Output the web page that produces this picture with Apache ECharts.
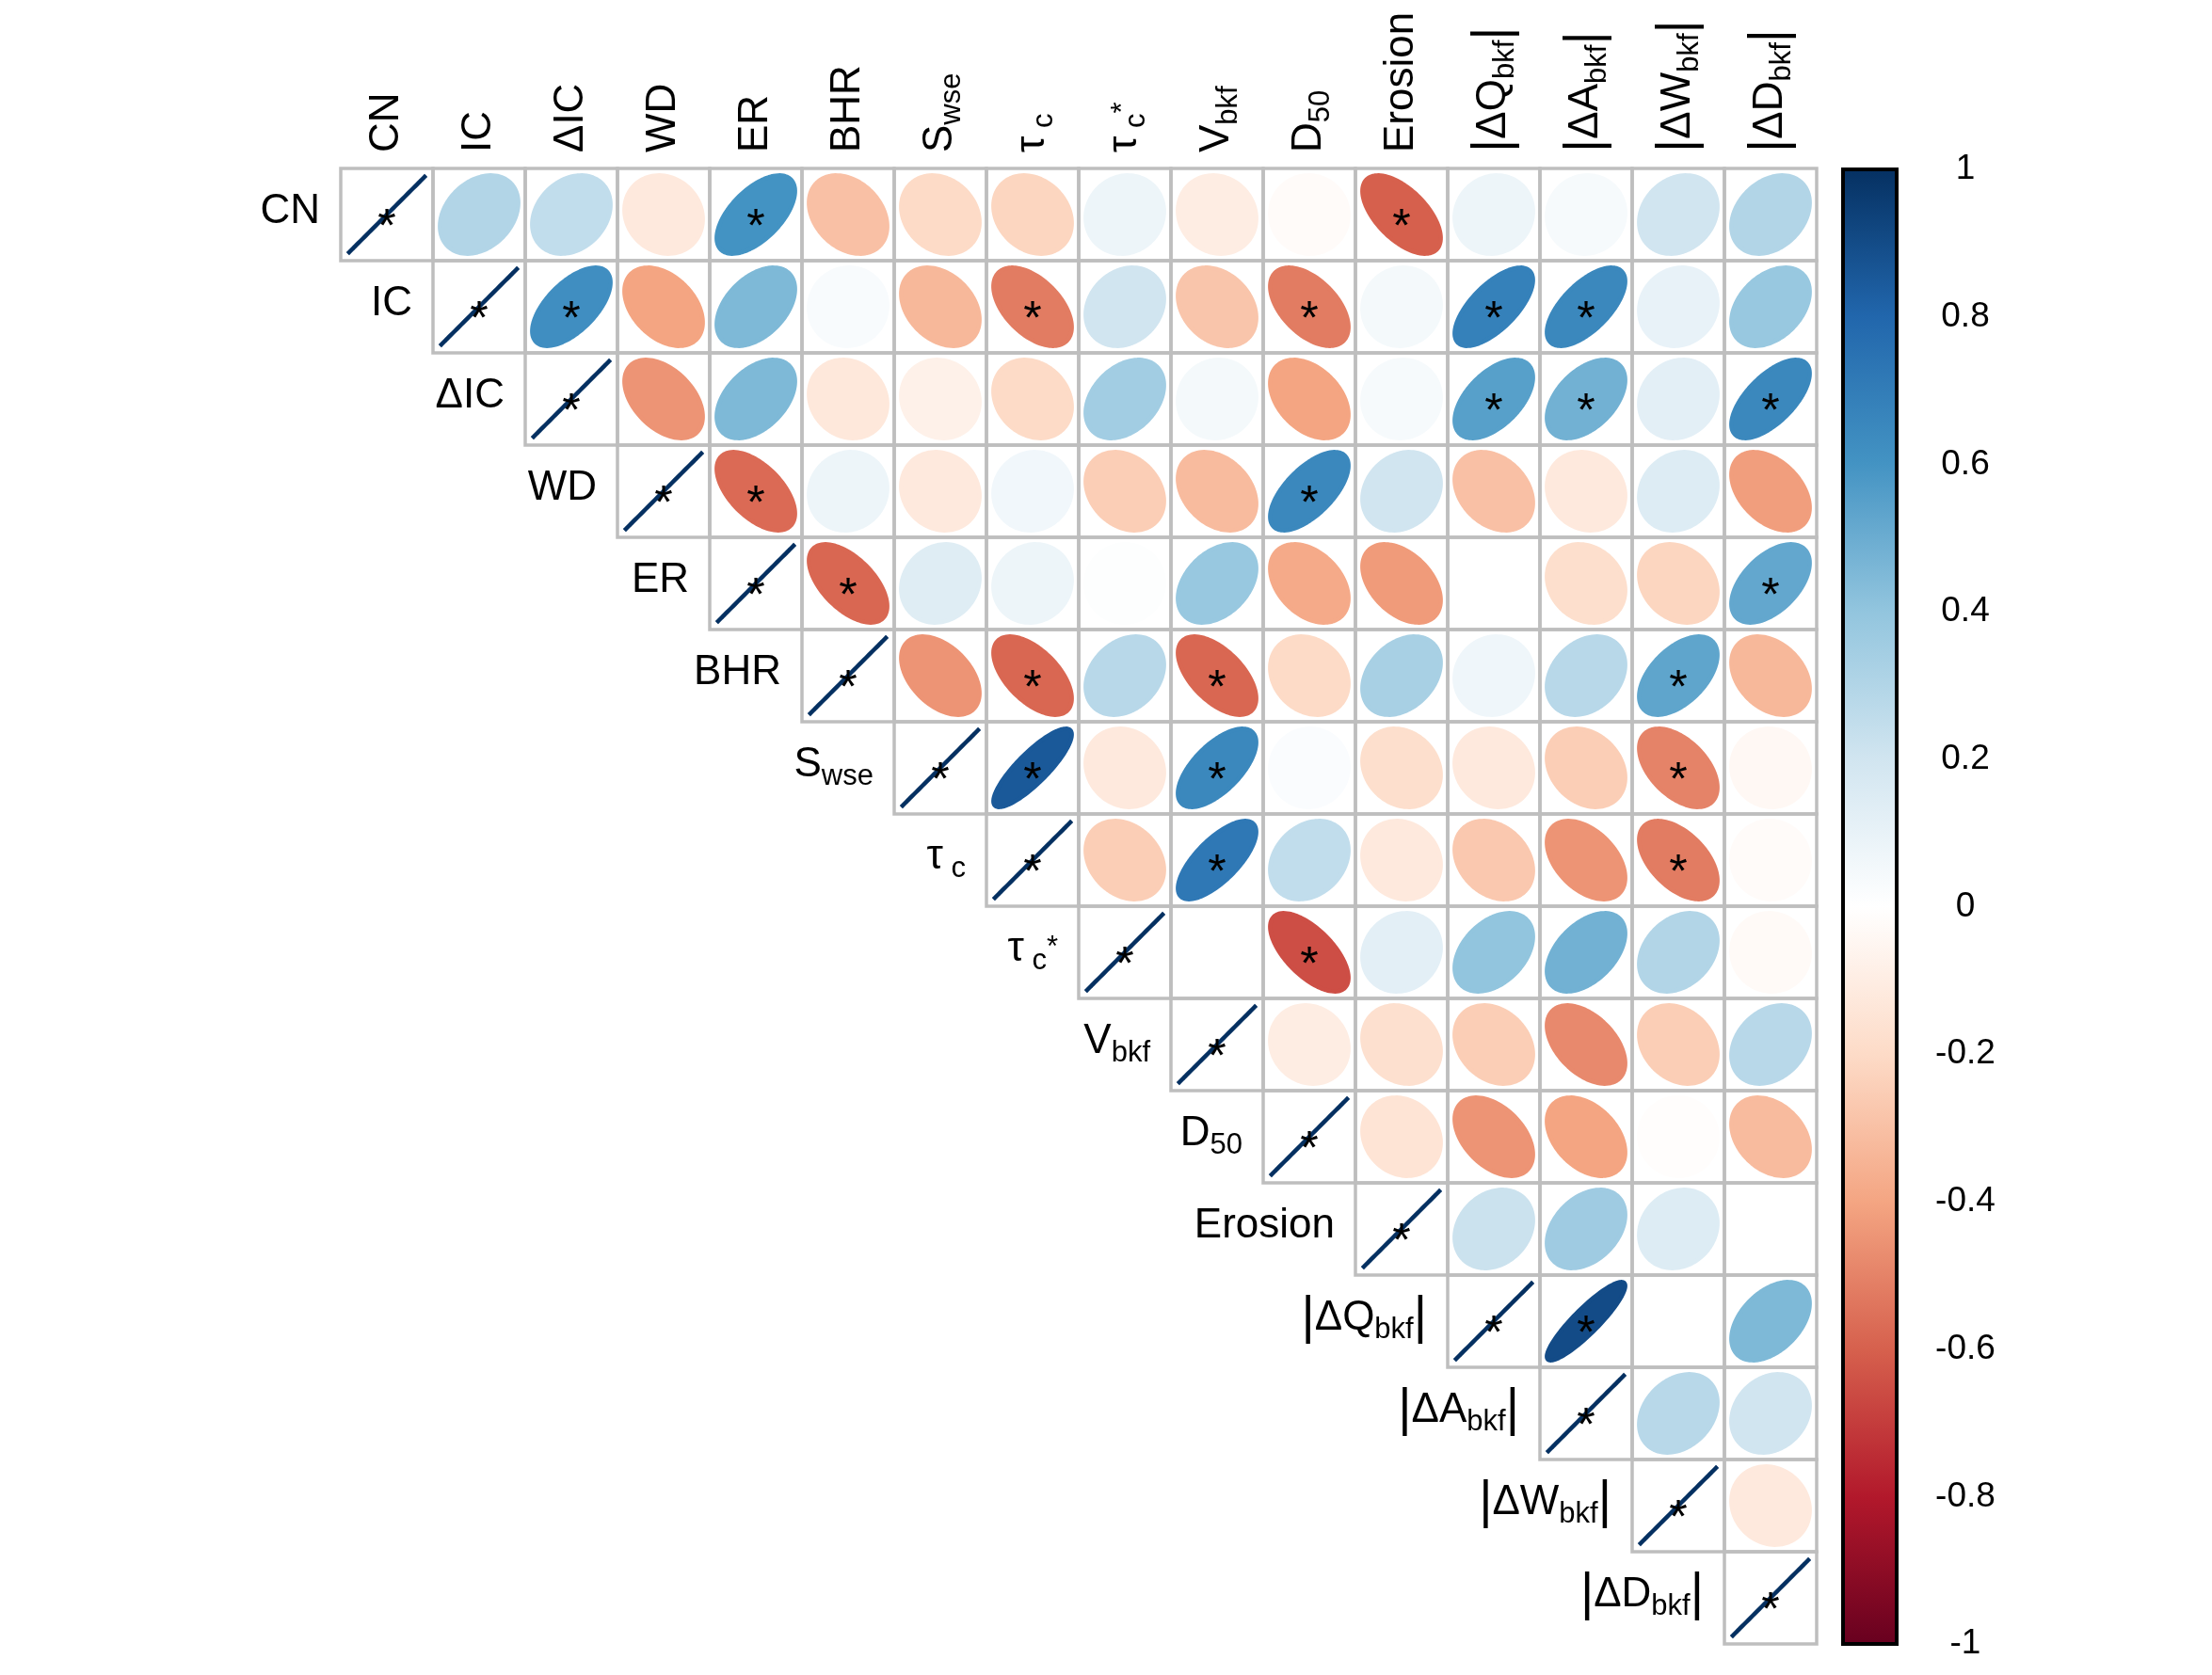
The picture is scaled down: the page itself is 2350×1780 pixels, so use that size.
<!DOCTYPE html>
<html><head><meta charset="utf-8">
<script src="https://cdn.jsdelivr.net/npm/echarts@6/dist/echarts.min.js"></script>
<style>html,body{margin:0;padding:0;background:#fff}#c{width:2350px;height:1780px}</style>
</head><body><div id="c"></div>
<script>
// Variable labels (rich-text markup: s = subscript, p = superscript, b = bar)
const varLabels = ['CN', 'IC', 'ΔIC', 'WD', 'ER', 'BHR', 'S{s|wse}', 'τ{s| c}', 'τ{s| c}{p|*}',
  'V{s|bkf}', 'D{s|50}', 'Erosion', '{b||}ΔQ{s|bkf}{b||}', '{b||}ΔA{s|bkf}{b||}',
  '{b||}ΔW{s|bkf}{b||}', '{b||}ΔD{s|bkf}{b||}'];

// Upper-triangle correlation rows (each row starts at its diagonal cell)
const rowCN   = [1, 0.30, 0.25, -0.12, 0.60, -0.30, -0.20, -0.22, 0.08, -0.10, -0.02, -0.60, 0.08, 0.04, 0.20, 0.30];
const rowIC   = [1, 0.62, -0.40, 0.45, 0.03, -0.33, -0.52, 0.20, -0.28, -0.52, 0.05, 0.68, 0.65, 0.10, 0.38];
const rowDIC  = [1, -0.45, 0.45, -0.13, -0.08, -0.20, 0.35, 0.05, -0.40, 0.04, 0.55, 0.48, 0.12, 0.65];
const rowWD   = [1, -0.57, 0.08, -0.12, 0.06, -0.25, -0.32, 0.65, 0.20, -0.30, -0.12, 0.15, -0.42];
const rowER   = [1, -0.58, 0.14, 0.08, 0.01, 0.38, -0.38, -0.43, 0.00, -0.18, -0.22, 0.52];
const rowBHR  = [1, -0.45, -0.58, 0.28, -0.58, -0.20, 0.33, 0.07, 0.28, 0.53, -0.33];
const rowSwse = [1, 0.85, -0.12, 0.65, 0.02, -0.18, -0.12, -0.25, -0.50, -0.04];
const rowTc   = [1, -0.25, 0.72, 0.25, -0.12, -0.27, -0.45, -0.52, -0.02];
const rowTcs  = [1, 0.00, -0.65, 0.12, 0.40, 0.48, 0.30, -0.03];
const rowV    = [1, -0.10, -0.17, -0.25, -0.48, -0.25, 0.28];
const rowD50  = [1, -0.15, -0.45, -0.40, -0.01, -0.32];
const rowEro  = [1, 0.22, 0.36, 0.15, 0.00];
const rowQ    = [1, 0.90, 0.00, 0.45];
const rowA    = [1, 0.28, 0.20];
const rowW    = [1, -0.12];
const rowD    = [1];

// Significant pairs [row, col] (off-diagonal)
const sigPairs = [[0,4],[0,11],[1,2],[1,7],[1,10],[1,12],[1,13],[2,12],[2,13],[2,15],[3,4],[3,10],
  [4,5],[4,15],[5,7],[5,9],[5,14],[6,7],[6,9],[6,14],[7,9],[7,14],[8,10],[12,13]];

// Colour-bar ticks
const cbMin = -1, cbMax = 1, cbStep = 0.2;
const rdbu = ['#67001F', '#B2182B', '#D6604D', '#F4A582', '#FDDBC7', '#FFFFFF',
  '#D1E5F0', '#92C5DE', '#4393C3', '#2166AC', '#053061'];

const FONT = '"Liberation Sans", Arial, Helvetica, sans-serif';
const rich = {
  s: {fontSize: 31, fontFamily: FONT, color: '#000', padding: [24, 0, 0, 0]},
  p: {fontSize: 31, fontFamily: FONT, color: '#000', padding: [0, 0, 4, 0]},
  b: {fontSize: 55, fontFamily: FONT, color: '#000'}
};

const rows = [rowCN, rowIC, rowDIC, rowWD, rowER, rowBHR, rowSwse, rowTc, rowTcs, rowV, rowD50, rowEro, rowQ, rowA, rowW, rowD];
const cellData = [];
rows.forEach((r, i) => r.forEach((v, k) => cellData.push([i + k, i, v])));
const starData = sigPairs.map(p => [p[1], p[0]]).concat(varLabels.map((_, i) => [i, i]));
const labelData = varLabels.map((_, i) => [i, i]);

function renderEllipse(params, api) {
  const c = api.coord([api.value(0), api.value(1)]);
  const sz = api.size([1, 1]);
  const r = Math.max(-1, Math.min(1, api.value(2)));
  const d = Math.acos(r);
  const pts = [];
  for (let i = 0; i < 99; i++) {
    const k = 2 * Math.PI * i / 98;
    pts.push([c[0] + Math.cos(k + d / 2) / 2 * 0.85 * sz[0], c[1] - Math.cos(k - d / 2) / 2 * 0.85 * sz[1]]);
  }
  const col = api.visual('color');
  return {type: 'polygon', shape: {points: pts}, style: {fill: col, stroke: col, lineWidth: 4.5, lineJoin: 'bevel'}};
}
function renderCell(params, api) {
  const c = api.coord([api.value(0), api.value(1)]);
  const sz = api.size([1, 1]);
  return {type: 'rect', shape: {x: c[0] - sz[0] / 2, y: c[1] - sz[1] / 2, width: sz[0], height: sz[1]},
    style: {fill: null, stroke: '#BEBEBE', lineWidth: 3.5}};
}
function renderStar(params, api) {
  const c = api.coord([api.value(0), api.value(1)]);
  return {type: 'text', x: c[0], y: c[1] + 15,
    style: {text: '*', fill: '#000', fontSize: 50, fontFamily: FONT, align: 'center', verticalAlign: 'middle'}};
}
function renderRowLabel(params, api) {
  const i = api.value(0);
  const c = api.coord([i, api.value(1)]);
  const sz = api.size([1, 1]);
  return {type: 'text', x: c[0] - sz[0] / 2 - 22, y: c[1] - 3,
    style: {text: varLabels[i], fill: '#000', fontSize: 44, fontFamily: FONT, align: 'right', verticalAlign: 'middle', rich: rich}};
}
function renderColorbar(params, api) {
  const p0 = api.coord([0, cbMin]);
  const p1 = api.coord([1, cbMax]);
  return {type: 'rect', shape: {x: p0[0], y: p1[1], width: p1[0] - p0[0], height: p0[1] - p1[1]},
    style: {fill: new echarts.graphic.LinearGradient(0, 1, 0, 0, rdbu.map((c, i) => ({offset: i / (rdbu.length - 1), color: c}))),
      stroke: '#000', lineWidth: 4}};
}

const chart = echarts.init(document.getElementById('c'), null, {renderer: 'canvas'});
chart.setOption({
  animation: false,
  backgroundColor: '#fff',
  grid: [
    {left: 362, top: 179, width: 1568, height: 1568},
    {left: 1958, top: 180, width: 57, height: 1567}
  ],
  xAxis: [
    {gridIndex: 0, type: 'category', data: varLabels, position: 'top',
      axisLine: {show: false}, axisTick: {show: false}, splitLine: {show: false},
      axisLabel: {rotate: -90, margin: 17, interval: 0, fontSize: 44, fontFamily: FONT, color: '#000', rich: rich}},
    {gridIndex: 1, type: 'value', min: 0, max: 1, show: false}
  ],
  yAxis: [
    {gridIndex: 0, type: 'category', data: varLabels, inverse: true, show: false},
    {gridIndex: 1, type: 'value', min: cbMin, max: cbMax, interval: cbStep, position: 'right',
      axisLine: {show: true, lineStyle: {color: '#000', width: 4}},
      axisTick: {show: true, length: 13, lineStyle: {color: '#000', width: 4}},
      splitLine: {show: false},
      axisLabel: {fontSize: 37, fontFamily: FONT, color: '#000', margin: 73, align: 'center',
        formatter: v => String(Math.round(v * 10) / 10)}}
  ],
  visualMap: {show: false, type: 'continuous', min: -1, max: 1, dimension: 2, seriesIndex: 1, inRange: {color: rdbu}},
  series: [
    {type: 'custom', xAxisIndex: 0, yAxisIndex: 0, data: cellData, renderItem: renderCell, encode: {x: 0, y: 1}, z: 3},
    {type: 'custom', xAxisIndex: 0, yAxisIndex: 0, data: cellData, renderItem: renderEllipse, encode: {x: 0, y: 1}, z: 2},
    {type: 'custom', xAxisIndex: 0, yAxisIndex: 0, data: starData, renderItem: renderStar, encode: {x: 0, y: 1}, z: 4},
    {type: 'custom', xAxisIndex: 0, yAxisIndex: 0, data: labelData, renderItem: renderRowLabel, encode: {x: 0, y: 1}, z: 4},
    {type: 'custom', xAxisIndex: 1, yAxisIndex: 1, data: [[0, cbMin]], renderItem: renderColorbar, encode: {x: 0, y: 1}, z: 2}
  ]
});
</script></body></html>
